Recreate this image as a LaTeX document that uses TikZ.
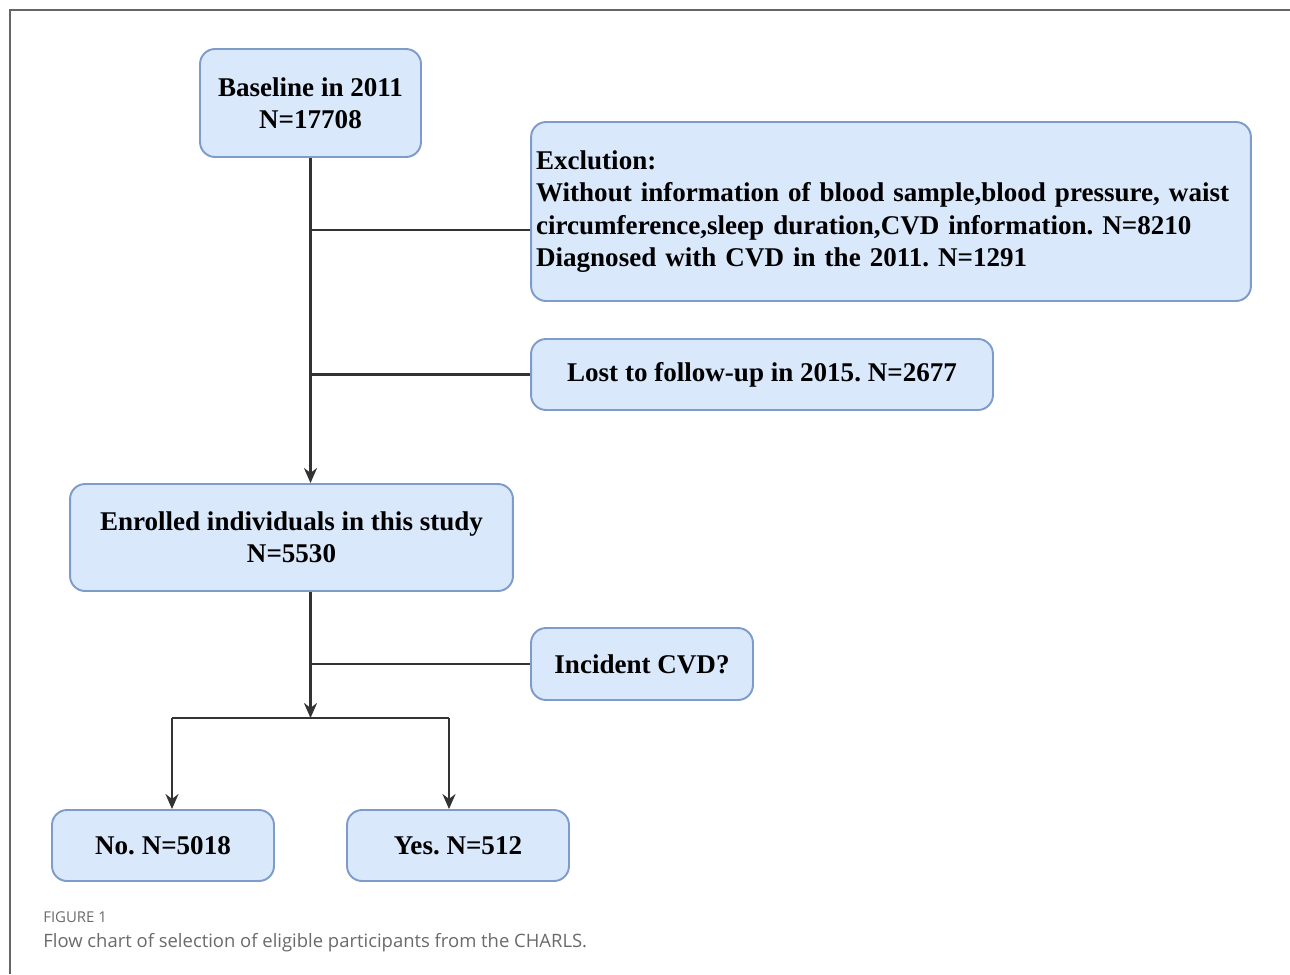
\documentclass[tikz,border=0pt]{standalone}
\usepackage{fontspec}
\setmainfont{Liberation Serif}
\newfontfamily\capfont{Open Sans}
\usetikzlibrary{arrows.meta, positioning}
\definecolor{boxfill}{HTML}{DAE8FC}
\definecolor{boxline}{HTML}{7E9CCB}
\definecolor{capgray}{HTML}{6A6A6A}
\frenchspacing

\begin{document}
\begin{tikzpicture}[
  x=0.02cm, y=-0.02cm,
  box/.style={draw=boxline, fill=boxfill, line width=1.1pt, rounded corners=0.3cm, align=center, inner sep=0.1cm, font=\fontsize{15.4}{18.4}\selectfont\bfseries},
  arr/.style={-{Stealth[length=3mm, width=2.6mm]}, line width=1.4pt, draw=black!80},
  link/.style={line width=1.4pt, draw=black!80},
  every node/.style={inner sep=0.1cm}
]
  \useasboundingbox (0,0) rectangle (1290,974);
  \draw[black!60, line width=0.7pt] (10,974) -- (10,10) -- (1290,10);

  \node[box, minimum width=4.42cm, minimum height=2.16cm] (base) at (310.5,103) {Baseline in 2011\\N=17708};
  \node[box, minimum width=14.4cm, minimum height=3.58cm, text width=14.2cm, align=left] (excl) at (891,211.5) {Exclution:\\Without information of blood sample,blood pressure, waist\\circumference,sleep duration,CVD information. N=8210\\Diagnosed with CVD in the 2011. N=1291};
  \node[box, minimum width=9.24cm, minimum height=1.42cm] (lost) at (762,374.5) {Lost to follow-up in 2015. N=2677};
  \node[box, minimum width=8.86cm, minimum height=2.14cm] (enrol) at (291.5,537.5) {Enrolled individuals in this study\\N=5530};
  \node[box, minimum width=4.44cm, minimum height=1.44cm] (inc) at (642,664) {Incident CVD?};
  \node[box, minimum width=4.44cm, minimum height=1.42cm] (no) at (163,845.5) {No. N=5018};
  \node[box, minimum width=4.44cm, minimum height=1.42cm] (yes) at (458,845.5) {Yes. N=512};

  % main trunk and side branches
  \draw[arr] (base) -- (base |- enrol.north);
  \coordinate (b1) at (310.5,230);
  \draw[link] (b1) -- (b1 -| excl.west);
  \draw[link] (base |- lost) -- (lost);

  % split after enrolment
  \coordinate (split) at (310.5,718);
  \draw[arr] (enrol.south -| split) -- (split);
  \draw[link] (split |- inc) -- (inc);
  \coordinate (noTop) at (172,718);
  \coordinate (yesTop) at (449,718);
  \draw[link] (noTop) -- (yesTop);
  \draw[arr] (noTop) -- (noTop |- no.north);
  \draw[arr] (yesTop) -- (yesTop |- yes.north);

  % caption
  \node[anchor=base west, inner sep=0pt, text=capgray, font=\capfont\fontsize{8.5}{10}\selectfont] (fig) at (43,922) {FIGURE 1};
  \node[anchor=base west, inner sep=0pt, text=capgray, font=\capfont\fontsize{10.5}{12}\selectfont] (cap) at (43,947) {Flow chart of selection of eligible participants from the CHARLS.};
\end{tikzpicture}
\end{document}
